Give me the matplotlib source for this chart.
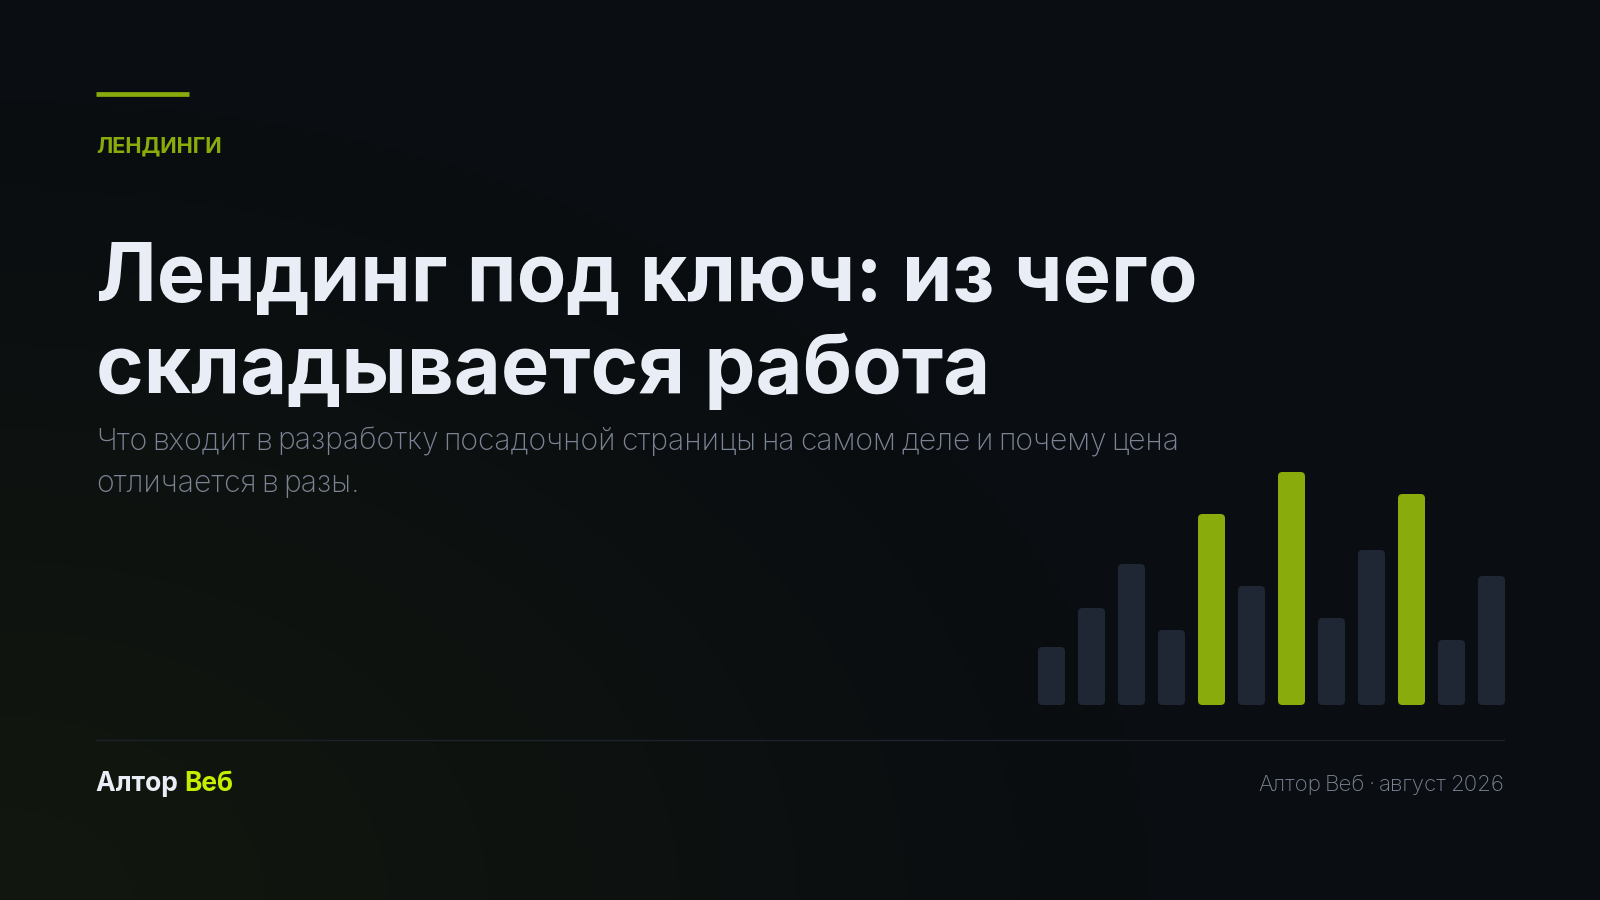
import numpy as np
import matplotlib
matplotlib.use("Agg")
from matplotlib import pyplot as plt
from matplotlib.patches import FancyBboxPatch

# --- content -------------------------------------------------------------
tag = "ЛЕНДИНГИ"
title_lines = ["Лендинг под ключ: из чего", "складывается работа"]
subtitle_lines = ["Что входит в разработку посадочной страницы на самом деле и почему цена",
                  "отличается в разы."]
brand_a = "Алтор "
brand_b = "Веб"
footer_right = "Алтор Веб · август 2026"

bar_values = [58, 97, 141, 75, 191, 119, 233, 87, 155, 211, 65, 129]
bar_highlight = [0, 0, 0, 0, 1, 0, 1, 0, 0, 1, 0, 0]

W, H = 1600, 900
BG = "#0a0d11"
LIME = "#8aab0c"
LIME_BRIGHT = "#c6ef00"
BAR_DARK = "#1f2734"
TITLE_C = "#e9edf5"
GREY = "#7b8394"

fig = plt.figure(figsize=(16, 9), dpi=100)
fig.patch.set_facecolor(BG)

# background with a faint olive glow from the bottom-left corner
bg_ax = fig.add_axes([0, 0, 1, 1])
bg_ax.set_axis_off()
yy, xx = np.mgrid[0:H, 0:W]
d = np.sqrt((xx / 1150.0) ** 2 + ((H - yy) / 800.0) ** 2)
glow = np.clip(1 - d, 0, 1) ** 1.1
base = np.array([10, 13, 17]) / 255.0
tint = np.array([18, 24, 14]) / 255.0
img = base[None, None, :] * (1 - glow[..., None]) + tint[None, None, :] * glow[..., None]
bg_ax.imshow(img, extent=[0, W, H, 0], aspect="auto", zorder=0)
bg_ax.set_xlim(0, W)
bg_ax.set_ylim(H, 0)

# accent line and footer rule
bg_ax.plot([96, 189], [94, 94], color=LIME, lw=3.4, solid_capstyle="butt", zorder=2)
bg_ax.plot([96, 1504], [740, 740], color="#1c222c", lw=1.0, zorder=2)


def fx(x):
    return x / W


def fy(y):
    return 1 - y / H


renderer = fig.canvas.get_renderer()


def fit(t, width_px):
    w = t.get_window_extent(renderer).width
    t.set_fontsize(t.get_fontsize() * width_px / w)


def word_line(text, x, y, size, gap, **kw):
    # draws words one by one with a tight word gap (in em); returns the texts
    out = []
    cx = x
    for wd in text.split(" "):
        t = fig.text(fx(cx), fy(y), wd, fontsize=size, va="baseline", **kw)
        e = t.get_window_extent(renderer)
        cx += e.width + gap * size * 100 / 72
        out.append(t)
    return out, cx - gap * size * 100 / 72 - x


def fit_words(text, x, y, width_px, size, gap, **kw):
    ts, w = word_line(text, x, y, size, gap, **kw)
    for t in ts:
        t.remove()
    size = size * width_px / w
    ts, w = word_line(text, x, y, size, gap, **kw)
    return ts, size


t_tag = fig.text(fx(96), fy(153), tag, color=LIME, family="Inter", weight="bold",
                 fontsize=17, va="baseline")
fit(t_tag, 126)

t1 = fig.text(fx(96), fy(301), title_lines[0], color=TITLE_C, family="Inter", weight="bold",
              fontsize=60, va="baseline")
fit(t1, 1101)
t2 = fig.text(fx(96), fy(393), title_lines[1], color=TITLE_C, family="Inter", weight="bold",
              fontsize=t1.get_fontsize(), va="baseline")

sub_kw = dict(color=GREY, family="Inter", weight="light")
_, sub_size = fit_words(subtitle_lines[0], 96, 450, 1083, 21, 0.17, **sub_kw)
word_line(subtitle_lines[1], 96, 492, sub_size, 0.17, **sub_kw)

b1 = fig.text(fx(96), fy(791), brand_a, color=TITLE_C, family="Inter", weight="bold",
              fontsize=19, va="baseline")
ext = b1.get_window_extent(renderer)
b2 = fig.text(ext.x1 / W, fy(791), brand_b, color=LIME_BRIGHT, family="Inter", weight="bold",
              fontsize=19, va="baseline")

# right footer, ends at x=1504
fr_kw = dict(color=GREY, family="Inter", weight="light")
fr_ts, fr_size = fit_words(footer_right, 1258, 791, 246, 16, 0.17, **fr_kw)

# --- bars ------------------------------------------------------------------
pitch = 40.0
bw = 27.0 / pitch
n = len(bar_values)
left_px = 1038 - (0.5 - bw / 2) * pitch
ymax = 240
bar_ax = fig.add_axes([left_px / W, 1 - 705 / H, n * pitch / W, ymax / H])
bar_ax.set_xlim(-0.5, n - 0.5)
bar_ax.set_ylim(0, ymax)
bar_ax.set_axis_off()
bar_ax.patch.set_alpha(0)

for i, (v, hl) in enumerate(zip(bar_values, bar_highlight)):
    p = FancyBboxPatch((i - bw / 2, 0), bw, v,
                       boxstyle="round,pad=0,rounding_size=0.11",
                       mutation_aspect=pitch,
                       facecolor=LIME if hl else BAR_DARK, edgecolor="none")
    bar_ax.add_patch(p)

fig.savefig("out.png", dpi=100, facecolor=BG)
